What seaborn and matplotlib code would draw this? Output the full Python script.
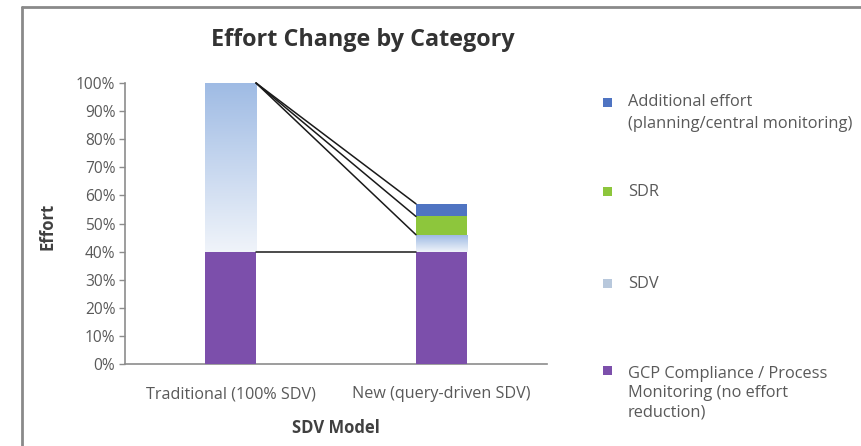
import numpy as np
import pandas as pd
import matplotlib
matplotlib.use("Agg")
import matplotlib.pyplot as plt
import seaborn as sns
from matplotlib.colors import to_rgb
from matplotlib.patches import Rectangle
from matplotlib.lines import Line2D

# ---- data -------------------------------------------------------------
models = ["Traditional (100% SDV)", "New (query-driven SDV)"]
gcp_compliance = [0.40, 0.40]
sdv = [0.60, 0.06]
sdr = [0.00, 0.065]
additional_effort = [0.00, 0.045]

legend_labels = [
    "Additional effort\n(planning/central monitoring)",
    "SDR",
    "SDV",
    "GCP Compliance / Process\nMonitoring (no effort\nreduction)",
]
y_ticks = np.arange(0, 1.01, 0.1)

# ---- styling ----------------------------------------------------------
PURPLE = "#7c4fab"
GREEN = "#8dc63c"
BLUE = "#4f74c2"
SDV_TOP = "#9fbbe4"
SDV_BOTTOM = "#f0f4fa"
SDV_LEGEND = "#b8c8dc"
TEXT = "#595959"
AXIS = "#8c8c8c"

sns.set_theme(style="white")
plt.rcParams["font.family"] = ["Open Sans", "DejaVu Sans"]

W, H = 861, 446
fig = plt.figure(figsize=(W / 100, H / 100), dpi=100)
ax = fig.add_axes([125 / W, 1 - 364 / H, (547 - 125) / W, (364 - 83) / H])

df = pd.DataFrame({
    "model": models,
    "gcp": gcp_compliance,
    "sdv": sdv,
    "sdr": sdr,
    "add": additional_effort,
})
df["top_gcp"] = df["gcp"]
df["top_sdv"] = df["top_gcp"] + df["sdv"]
df["top_sdr"] = df["top_sdv"] + df["sdr"]
df["top_add"] = df["top_sdr"] + df["add"]

bar_w = 0.242

# stacked bars: draw cumulative heights from the tallest down
sns.barplot(data=df, x="model", y="top_add", color=BLUE, saturation=1,
            width=bar_w, ax=ax, zorder=2, linewidth=0)
sns.barplot(data=df, x="model", y="top_sdr", color=GREEN, saturation=1,
            width=bar_w, ax=ax, zorder=3, linewidth=0)
n_before = len(ax.patches)
sns.barplot(data=df, x="model", y="top_sdv", color=SDV_TOP, saturation=1,
            width=bar_w, ax=ax, zorder=4, linewidth=0)
sdv_patches = ax.patches[n_before:]
sns.barplot(data=df, x="model", y="top_gcp", color=PURPLE, saturation=1,
            width=bar_w, ax=ax, zorder=6, linewidth=0)

# gradient fill for the SDV segment
c_top = np.array(to_rgb(SDV_TOP))
c_bot = np.array(to_rgb(SDV_BOTTOM))
grad = np.linspace(0, 1, 256)[:, None, None]
img = c_bot + (c_top - c_bot) * grad
for patch, base in zip(sdv_patches, df["top_gcp"]):
    x0 = patch.get_x()
    x1 = x0 + patch.get_width()
    y1 = patch.get_height()
    patch.set_facecolor("none")
    im = ax.imshow(img, extent=(x0, x1, base, y1), origin="lower",
                   aspect="auto", zorder=5, interpolation="bicubic")
    im.set_clip_path(patch)

# series lines joining the segment tops of the two bars
for col in ["top_gcp", "top_sdv", "top_sdr", "top_add"]:
    ax.plot([0 + bar_w / 2, 1 - bar_w / 2], df[col].tolist(),
            color="#1a1a1a", lw=1.1, zorder=7, clip_on=False)

ax.set_xlim(-0.5, 1.5)
ax.set_ylim(0, 1)
ax.set_yticks(y_ticks)
ax.set_yticklabels([f"{int(round(v * 100))}%" for v in y_ticks])
ax.tick_params(axis="y", length=4, width=1, color=AXIS, labelsize=11.2,
               labelcolor=TEXT, pad=3, left=True, direction="out")
ax.tick_params(axis="x", length=0, labelsize=11.6, labelcolor=TEXT, pad=16)
for s in ["top", "right"]:
    ax.spines[s].set_visible(False)
for s in ["left", "bottom"]:
    ax.spines[s].set_color(AXIS)
    ax.spines[s].set_linewidth(1.2)

ax.set_xlabel("SDV Model", fontsize=12, fontweight="bold", color="#404040")
ax.xaxis.set_label_coords(0.5, -0.195)
ax.set_ylabel("Effort", fontsize=12, fontweight="bold", color="#404040")
ax.yaxis.set_label_coords(-0.163, 0.49)

fig.text(363 / W, 1 - 40 / H, "Effort Change by Category", ha="center",
         va="center", fontsize=16.8, fontweight="bold", color="#333333")

# legend
leg_colors = [BLUE, GREEN, SDV_LEGEND, PURPLE]
leg_marker_y = [102, 191, 283, 370]
leg_text_y = [100, 191, 282, 372]
leg_spacing = [1.5, 1.3, 1.3, 1.3]
for lab, col, my, ty, ls in zip(legend_labels, leg_colors, leg_marker_y,
                                leg_text_y, leg_spacing):
    fig.patches.append(Rectangle(((607 - 4.5) / W, 1 - (my + 4.5) / H),
                                 9 / W, 9 / H, transform=fig.transFigure,
                                 facecolor=col, edgecolor="none"))
    fig.text(628 / W, 1 - (ty - 6.5) / H, lab, ha="left", va="top",
             fontsize=11.8, color=TEXT, linespacing=ls)

# chart-area frame (top and left edges)
fig.add_artist(Line2D([22 / W, 1], [1 - 7 / H, 1 - 7 / H], color="#8a8a8a",
                      lw=2, transform=fig.transFigure))
fig.add_artist(Line2D([22 / W, 22 / W], [0, 1 - 7 / H], color="#8a8a8a",
                      lw=2, transform=fig.transFigure))

fig.savefig("out.png", dpi=100)
